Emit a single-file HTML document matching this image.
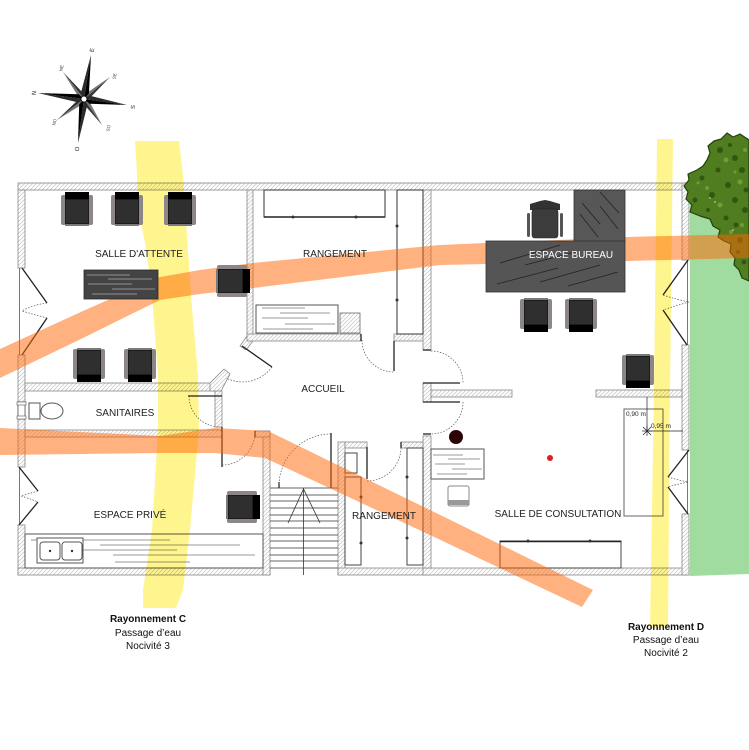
<!DOCTYPE html>
<html><head><meta charset="utf-8"><style>
html,body{margin:0;padding:0;background:#fff;}
svg{display:block;}
text{font-family:"Liberation Sans",sans-serif;}
</style></head><body>
<svg width="749" height="750" viewBox="0 0 749 750" xmlns="http://www.w3.org/2000/svg">
<defs>
<pattern id="h" width="4" height="4" patternUnits="userSpaceOnUse">
<rect width="4" height="4" fill="#fff"/>
<path d="M0,4 L4,0 M-1,1 L1,-1 M3,5 L5,3" stroke="#cdcdcd" stroke-width="0.8"/>
</pattern>
<symbol id="ch" viewBox="0 0 32 34">
<rect x="0" y="3" width="32" height="30" rx="2" fill="#8c8686"/>
<rect x="4" y="1" width="24" height="32" fill="#1c1c1c"/>
<rect x="4" y="0" width="24" height="7" fill="#000"/>
<rect x="5" y="8" width="22" height="23" fill="#2f2f2f"/>
<rect x="4" y="32" width="24" height="2" fill="#7a7a7a"/>
</symbol>
</defs>
<rect width="749" height="750" fill="#fff"/>

<!-- lawn -->
<polygon points="690,172 749,168 749,574 690,576" fill="#a0dca0"/>

<!-- walls -->
<g fill="url(#h)" stroke="#888" stroke-width="0.8">
<rect x="18" y="183" width="671" height="7"/>
<rect x="18" y="190" width="7" height="78"/>
<rect x="18" y="355" width="7" height="112"/>
<rect x="18" y="525" width="7" height="50"/>
<rect x="18" y="568" width="252" height="7"/>
<rect x="263" y="431" width="7" height="144"/>
<rect x="338" y="442" width="7" height="133"/>
<rect x="338" y="568" width="92" height="7"/>
<rect x="423" y="568" width="266" height="7"/>
<rect x="682" y="183" width="7" height="77"/>
<rect x="682" y="345" width="7" height="105"/>
<rect x="682" y="514" width="7" height="61"/>
<rect x="247" y="190" width="6" height="148"/>
<rect x="25" y="383" width="190" height="8"/>
<polygon points="210,383 224,369 230,374 221,391 210,391"/>
<rect x="215" y="391" width="7" height="36"/>
<polygon points="247,336 253,336 253,341 246,350 240,346"/>
<rect x="25" y="430" width="197" height="7"/>
<rect x="255" y="431" width="15" height="6"/>
<rect x="247" y="334" width="114" height="7"/>
<rect x="394" y="334" width="36" height="7"/>
<rect x="423" y="190" width="8" height="160"/>
<rect x="423" y="383" width="8" height="19"/>
<rect x="423" y="436" width="8" height="132"/>
<rect x="345" y="442" width="22" height="6"/>
<rect x="401" y="442" width="22" height="6"/>
<rect x="431" y="390" width="81" height="7"/>
<rect x="596" y="390" width="86" height="7"/>
</g>

<!-- outer door/window frames -->
<g stroke="#555" stroke-width="0.8" fill="none">
<line x1="19.5" y1="268" x2="19.5" y2="355"/>
<line x1="19.5" y1="467" x2="19.5" y2="525"/>
<line x1="687.5" y1="260" x2="687.5" y2="345"/>
<line x1="687.5" y1="450" x2="687.5" y2="514"/>
</g>
<rect x="18" y="402" width="7" height="17" fill="#fff" stroke="#555" stroke-width="0.8"/>
<rect x="17" y="402" width="9" height="3" fill="#fff" stroke="#555" stroke-width="0.6"/>
<rect x="17" y="416" width="9" height="3" fill="#fff" stroke="#555" stroke-width="0.6"/>

<!-- door leaves -->
<g stroke="#222" stroke-width="1.3" fill="none">
<line x1="242" y1="346" x2="272" y2="367"/>
<line x1="394" y1="341" x2="394" y2="371"/>
<line x1="361" y1="334" x2="361" y2="341"/>
<line x1="367" y1="447" x2="367" y2="479"/>
<line x1="401" y1="442" x2="401" y2="448"/>
<line x1="331" y1="433" x2="331" y2="488"/>
<line x1="279" y1="482" x2="279" y2="488"/>
<line x1="188" y1="396" x2="222" y2="396"/>
<line x1="222" y1="427" x2="222" y2="432"/>
<line x1="222" y1="432" x2="222" y2="467"/>
<line x1="255" y1="431" x2="255" y2="437"/>
<line x1="423" y1="383" x2="460" y2="383"/>
<line x1="423" y1="350" x2="431" y2="350"/>
<line x1="423" y1="402" x2="460" y2="402"/>
<line x1="423" y1="434" x2="431" y2="434"/>
<polyline points="22,268 47,303"/><polyline points="47,318 22,355"/>
<polyline points="19,467 38,491"/><polyline points="38,502 19,525"/>
<polyline points="688,260 663,295"/><polyline points="663,310 687,345"/>
<polyline points="689,450 668,477"/><polyline points="668,487 688,514"/>
</g>
<g stroke="#555" stroke-width="0.7" fill="none" stroke-dasharray="1.5,1.5">
<path d="M272,367 A36.6,36.6 0 0 1 226,378"/>
<path d="M362,340 A32,32 0 0 0 394,372"/>
<path d="M367,481 A34,34 0 0 0 401,447"/>
<path d="M331,434 A52,52 0 0 0 279,486"/>
<path d="M189,396 A31,31 0 0 0 220,427"/>
<path d="M222,465 A33,33 0 0 0 255,432"/>
<path d="M431,351 A32,32 0 0 1 463,383"/>
<path d="M463,402 A32,32 0 0 1 431,434"/>
<path d="M47,303 Q32,305 22,311 Q32,314 47,318"/>
<path d="M38,491 Q28,494 21,496 Q28,498 38,502"/>
<path d="M663,295 Q678,300 689,302 Q678,305 663,310"/>
<path d="M668,477 Q678,480 688,482 Q678,484 668,487"/>
</g>

<!-- stairs -->
<g stroke="#333" stroke-width="0.8" fill="none">
<line x1="270" y1="488" x2="338" y2="488"/>
<line x1="270" y1="495" x2="338" y2="495"/>
<line x1="270" y1="501" x2="338" y2="501"/>
<line x1="270" y1="508" x2="338" y2="508"/>
<line x1="270" y1="515" x2="338" y2="515"/>
<line x1="270" y1="521" x2="338" y2="521"/>
<line x1="270" y1="528" x2="338" y2="528"/>
<line x1="270" y1="535" x2="338" y2="535"/>
<line x1="270" y1="541" x2="338" y2="541"/>
<line x1="270" y1="548" x2="338" y2="548"/>
<line x1="270" y1="555" x2="338" y2="555"/>
<line x1="270" y1="561" x2="338" y2="561"/>
<line x1="270" y1="568" x2="338" y2="568"/>
<line x1="303.5" y1="488" x2="303.5" y2="575"/>
<polyline points="288,523 303.5,489 320,523"/>
</g>

<!-- light furniture -->
<g stroke="#333" stroke-width="1" fill="#fff">
<rect x="264" y="190" width="121" height="27"/>
<rect x="397" y="190" width="26" height="144"/>
<rect x="256" y="305" width="82" height="28" stroke="#555"/>
<rect x="345" y="453" width="12" height="20" stroke="#444"/>
<rect x="345" y="477" width="16" height="88" stroke="#444"/>
<rect x="407" y="448" width="16" height="117" stroke="#444"/>
<rect x="25" y="534" width="238" height="34" stroke="#555"/>
<rect x="37" y="538" width="46" height="25" stroke="#555"/>
<rect x="40" y="542" width="20" height="18" rx="3" stroke="#555"/>
<rect x="62" y="542" width="20" height="18" rx="3" stroke="#555"/>
<rect x="29" y="403" width="11" height="16" stroke="#555"/>
<ellipse cx="52" cy="411" rx="11" ry="8" stroke="#555"/>
<rect x="431" y="449" width="53" height="30" stroke="#555"/>
<rect x="448" y="486" width="21" height="20" rx="2" stroke="#888"/>
<rect x="624" y="409" width="39" height="107" stroke="#666"/>
<rect x="500" y="541" width="121" height="27" stroke="#444"/>
</g>
<rect x="340" y="313" width="20" height="20" fill="url(#h)" stroke="#666" stroke-width="0.8"/>
<line x1="264" y1="217" x2="385" y2="217" stroke="#222" stroke-width="1.6"/>
<line x1="500" y1="541.5" x2="621" y2="541.5" stroke="#222" stroke-width="1.6"/>
<rect x="448" y="500" width="21" height="5" fill="#999"/>
<g fill="#333">
<circle cx="293" cy="217" r="1.5"/><circle cx="356" cy="217" r="1.5"/>
<circle cx="397" cy="226" r="1.5"/><circle cx="397" cy="300" r="1.5"/>
<circle cx="361" cy="497" r="1.5"/><circle cx="361" cy="543" r="1.5"/>
<circle cx="407" cy="477" r="1.5"/><circle cx="407" cy="538" r="1.5"/>
<circle cx="528" cy="541" r="1.5"/><circle cx="590" cy="541" r="1.5"/>
<circle cx="50" cy="551" r="1.2"/><circle cx="72" cy="551" r="1.2"/>
</g>
<g stroke="#777" stroke-width="0.8">
<line x1="262" y1="308" x2="305" y2="308"/>
<line x1="280" y1="313" x2="330" y2="313"/>
<line x1="262" y1="318" x2="308" y2="318"/>
<line x1="285" y1="324" x2="335" y2="324"/>
<line x1="263" y1="329" x2="313" y2="329"/>
<line x1="31" y1="540" x2="37" y2="540"/>
<line x1="83" y1="540" x2="170" y2="540"/>
<line x1="100" y1="545" x2="240" y2="545"/>
<line x1="83" y1="550" x2="177" y2="550"/>
<line x1="113" y1="555" x2="255" y2="555"/>
<line x1="115" y1="562" x2="190" y2="562"/>
<line x1="433" y1="455" x2="463" y2="455"/>
<line x1="448" y1="459" x2="480" y2="459"/>
<line x1="435" y1="464" x2="465" y2="464"/>
<line x1="452" y1="469" x2="482" y2="469"/>
<line x1="437" y1="474" x2="467" y2="474"/>
</g>

<!-- tree -->
<g>
<polygon fill="#4f7d20" stroke="#24400c" stroke-width="1.2" stroke-linejoin="round"
 points="727,133 733,137 740,134 749,140 749,281 742,278 739,270 734,265 735,258 730,252 731,244 724,241 718,237 720,230 713,226 710,219 700,216 690,212 692,205 686,199 688,192 684,186 689,180 688,174 697,170 703,166 707,160 710,153 708,146 714,141 721,139"/>
<g fill="#33560f">
<circle cx="720" cy="150" r="3"/><circle cx="735" cy="158" r="3"/><circle cx="702" cy="178" r="2.5"/>
<circle cx="712" cy="195" r="3"/><circle cx="728" cy="185" r="3"/><circle cx="742" cy="170" r="3"/>
<circle cx="745" cy="210" r="3"/><circle cx="726" cy="218" r="2.5"/><circle cx="740" cy="240" r="3"/>
<circle cx="744" cy="262" r="2.5"/><circle cx="695" cy="200" r="2.5"/><circle cx="735" cy="200" r="3"/>
<circle cx="718" cy="170" r="2.5"/><circle cx="736" cy="225" r="2.5"/><circle cx="746" cy="190" r="2.5"/>
<circle cx="730" cy="145" r="2"/><circle cx="708" cy="210" r="2"/><circle cx="738" cy="252" r="2"/>
</g>
<g fill="#6f9d36">
<circle cx="726" cy="160" r="2.5"/><circle cx="740" cy="182" r="2.5"/><circle cx="707" cy="188" r="2"/>
<circle cx="720" cy="205" r="2.5"/><circle cx="742" cy="225" r="2"/><circle cx="731" cy="232" r="2"/>
<circle cx="745" cy="150" r="2"/><circle cx="698" cy="183" r="1.5"/><circle cx="735" cy="172" r="1.5"/>
</g>
<g fill="#e8e0a0">
<circle cx="710" cy="198" r="0.8"/><circle cx="715" cy="202" r="0.8"/><circle cx="733" cy="230" r="0.8"/>
</g>
</g>

<!-- radiation bands -->
<g style="mix-blend-mode:multiply">
<polygon fill="#fff58f" points="135,141 137,175 138,208 147,253 153,308 158,375 158,430 152,530 143,590 143,608 176,608 183,590 190,530 199,430 198,375 192,308 185,208 183,175 179,141"/>
<polygon fill="#fff58f" points="657,139 654,390 650,628 668,628 670,390 673,139"/>
</g>
<g fill="rgba(255,100,0,0.5)">
<polygon points="0,349 83,311 160,277 200,270 253,263 440,245 627,237 749,234 749,258 627,261 440,265 253,288 200,294 160,300 83,338 0,378"/>
<polygon points="0,428 160,436 215,428 268,431 430,510 593,590 582,607 430,535 265,458 215,453 160,453 0,455"/>
</g>

<!-- dark furniture -->
<rect x="84" y="270" width="74" height="29" fill="#444" stroke="#2a2a2a" stroke-width="0.8"/>
<g stroke="#aaa" stroke-width="0.8">
<line x1="87" y1="275" x2="130" y2="275"/>
<line x1="108" y1="279" x2="152" y2="279"/>
<line x1="88" y1="284" x2="132" y2="284"/>
<line x1="112" y1="289" x2="155" y2="289"/>
<line x1="92" y1="294" x2="137" y2="294"/>
</g>
<rect x="574" y="190" width="51" height="51" fill="#575757" stroke="#333" stroke-width="0.8"/>
<rect x="486" y="241" width="139" height="51" fill="#555" stroke="#333" stroke-width="0.8"/>
<g stroke="#222" stroke-width="0.8">
<line x1="582" y1="203" x2="600" y2="224"/>
<line x1="580" y1="214" x2="598" y2="237"/>
<line x1="600" y1="192" x2="619" y2="213"/>
<line x1="600" y1="206" x2="618" y2="229"/>
<line x1="500" y1="263" x2="560" y2="245"/>
<line x1="525" y1="265" x2="575" y2="252"/>
<line x1="497" y1="284" x2="558" y2="268"/>
<line x1="540" y1="282" x2="600" y2="265"/>
<line x1="568" y1="286" x2="618" y2="272"/>
</g>
<!-- office chair -->
<g>
<path d="M530,204 L540,201 L545,200 L550,201 L560,204 L560,210 L530,210 Z" fill="#333"/>
<rect x="532" y="209" width="26" height="29" rx="3" fill="#3c3c3c" stroke="#222" stroke-width="0.6"/>
<rect x="527" y="213" width="3" height="24" rx="1.5" fill="#555"/>
<rect x="560" y="213" width="3" height="24" rx="1.5" fill="#555"/>
</g>
<!-- armchairs -->
<use href="#ch" x="61" y="192" width="32" height="34"/>
<use href="#ch" x="111" y="192" width="32" height="34"/>
<use href="#ch" x="164" y="192" width="32" height="34"/>
<use href="#ch" x="73" y="348" width="32" height="34" transform="rotate(180 89 365)"/>
<use href="#ch" x="124" y="348" width="32" height="34" transform="rotate(180 140 365)"/>
<use href="#ch" x="217" y="264" width="32" height="34" transform="rotate(90 233 281)"/>
<use href="#ch" x="227" y="490" width="32" height="34" transform="rotate(90 243 507)"/>
<use href="#ch" x="520" y="298" width="32" height="34" transform="rotate(180 536 315)"/>
<use href="#ch" x="565" y="298" width="32" height="34" transform="rotate(180 581 315)"/>
<use href="#ch" x="622" y="354" width="32" height="34" transform="rotate(180 638 371)"/>

<circle cx="456" cy="437" r="7" fill="#2b0505"/>
<circle cx="550" cy="458" r="3" fill="#e02020"/>

<!-- dimensions -->
<g stroke="#222" stroke-width="0.7">
<line x1="647" y1="397" x2="647" y2="430"/>
<line x1="647" y1="431" x2="683" y2="431"/>
<line x1="643" y1="427" x2="651" y2="435"/><line x1="651" y1="427" x2="643" y2="435"/>
<line x1="647" y1="426" x2="647" y2="436"/><line x1="642" y1="431" x2="652" y2="431"/>
</g>
<text x="626" y="416" font-size="6.5" fill="#222">0,90 m</text>
<text x="651" y="428" font-size="6.5" fill="#222">0,95 m</text>

<!-- room labels -->
<g font-size="10" fill="#222" text-anchor="middle">
<text x="139" y="257">SALLE D'ATTENTE</text>
<text x="335" y="257">RANGEMENT</text>
<text x="323" y="392">ACCUEIL</text>
<text x="125" y="416">SANITAIRES</text>
<text x="130" y="518">ESPACE PRIVÉ</text>
<text x="384" y="519">RANGEMENT</text>
<text x="571" y="258" fill="#fff">ESPACE BUREAU</text>
<text x="558" y="517">SALLE DE CONSULTATION</text>
</g>

<!-- bottom labels -->
<g font-size="10" fill="#111" text-anchor="middle">
<text x="148" y="622" font-weight="bold">Rayonnement C</text>
<text x="148" y="636">Passage d’eau</text>
<text x="148" y="649">Nocivité 3</text>
<text x="666" y="630" font-weight="bold">Rayonnement D</text>
<text x="666" y="643">Passage d’eau</text>
<text x="666" y="656">Nocivité 2</text>
</g>

<!-- compass -->
<g>
<polygon points="84,99 63,72 83.3,93.2" fill="#333"/><polygon points="84,99 63,72 78.5,96.9" fill="#777"/>
<polygon points="84,99 110,77 89.7,98.1" fill="#333"/><polygon points="84,99 110,77 85.9,93.5" fill="#777"/>
<polygon points="84,99 102,125 84.4,104.8" fill="#333"/><polygon points="84,99 102,125 89.3,101.4" fill="#777"/>
<polygon points="84,99 57,120 78.2,99.7" fill="#333"/><polygon points="84,99 57,120 81.9,104.5" fill="#777"/>
<polygon points="84,99 91,55 88.9,93.7" fill="#000"/><polygon points="84,99 91,55 81,92.5" fill="#2a2a2a"/>
<polygon points="84,99 127,105 89.4,103.8" fill="#000"/><polygon points="84,99 127,105 90.5,95.9" fill="#2a2a2a"/>
<polygon points="84,99 78,143 79.2,104.4" fill="#000"/><polygon points="84,99 78,143 87.2,105.5" fill="#2a2a2a"/>
<polygon points="84,99 38,93 78.6,94.3" fill="#000"/><polygon points="84,99 38,93 77.5,102.2" fill="#2a2a2a"/>
<circle cx="84" cy="99" r="3" fill="#fff" stroke="#000" stroke-width="0.8"/>
</g>
<g fill="#222" text-anchor="middle" font-size="6">
<text x="92" y="52" transform="rotate(-80 92 50)">E</text>
<text x="133" y="109" transform="rotate(-80 133 107)">S</text>
<text x="77" y="151" transform="rotate(-80 77 149)">O</text>
<text x="34" y="95" transform="rotate(-80 34 93)">N</text>
</g>
<g fill="#444" text-anchor="middle" font-size="4.5">
<text x="61" y="70" transform="rotate(-80 61 68)">NE</text>
<text x="114" y="78" transform="rotate(-80 114 76)">SE</text>
<text x="108" y="130" transform="rotate(-80 108 128)">SO</text>
<text x="54" y="124" transform="rotate(-80 54 122)">NO</text>
</g>
</svg>
</body></html>
